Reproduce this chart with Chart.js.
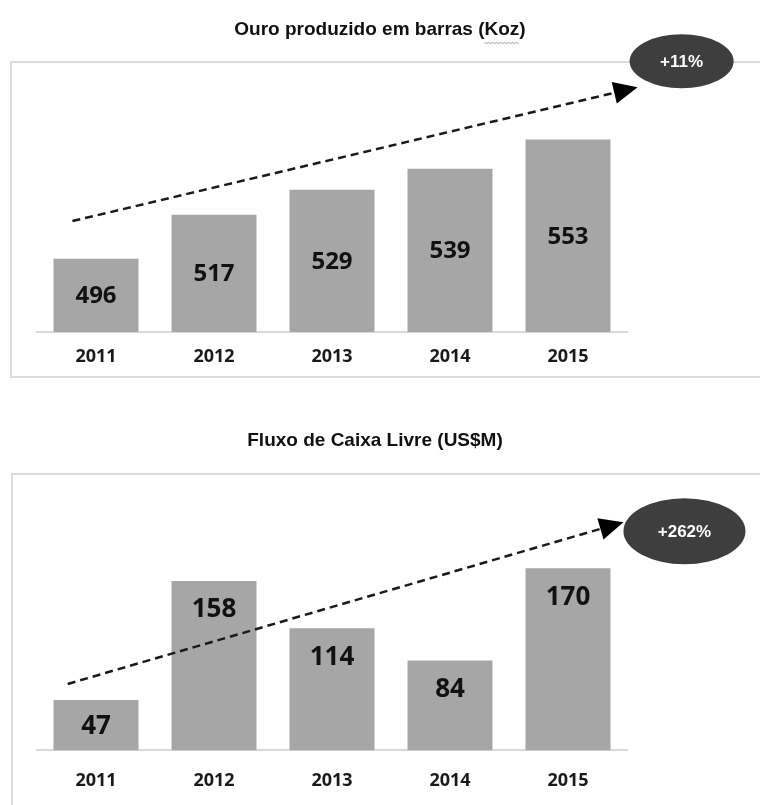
<!DOCTYPE html>
<html lang="pt">
<head>
<meta charset="utf-8">
<title>Ouro produzido e Fluxo de Caixa Livre</title>
<script src="https://cdn.jsdelivr.net/npm/chart.js@4.4.1/dist/chart.umd.min.js"></script>
<style>
  html, body { margin: 0; padding: 0; background: #fff; }
  body { width: 760px; height: 805px; position: relative; overflow: hidden; }
  canvas { position: absolute; left: 0; }
  #graficaOuro { top: 0; }
  #graficaFluxo { top: 400px; }
</style>
</head>
<body>
<canvas id="graficaOuro" width="760" height="390"></canvas>
<canvas id="graficaFluxo" width="760" height="420"></canvas>
<script>
// --- Dados ---
const anos = ['2011', '2012', '2013', '2014', '2015'];
const ouroKoz = [496, 517, 529, 539, 553];
const fluxoCaixa = [47, 158, 114, 84, 170];
const titulos = ['Ouro produzido em barras (Koz)', 'Fluxo de Caixa Livre (US$M)'];
const variacoes = ['+11%', '+262%'];

const FONTE_TITULO = 'bold 19px "Liberation Sans", Arial, sans-serif';

// Titulo, moldura, valores nas barras e seta de tendencia com o balao
function painel(cfg) {
    return {
        id: 'painel',
        beforeDraw(chart) {
            const ctx = chart.ctx;
            ctx.save();
            ctx.fillStyle = '#111';
            ctx.font = FONTE_TITULO;
            ctx.textAlign = 'center';
            ctx.textBaseline = 'middle';
            ctx.fillText(cfg.titulo, cfg.tituloX, cfg.tituloY);

            // sublinhado ondulado do corretor
            if (cfg.sublinhado) {
                const total = ctx.measureText(cfg.titulo).width;
                const idx = cfg.titulo.indexOf(cfg.sublinhado);
                const x0 = cfg.tituloX - total / 2 + ctx.measureText(cfg.titulo.slice(0, idx)).width;
                const w = ctx.measureText(cfg.sublinhado).width;
                ctx.strokeStyle = '#a0a0a0';
                ctx.lineWidth = 1;
                ctx.beginPath();
                for (let x = 0; x <= w; x += 2) {
                    const yy = cfg.tituloY + 12 + ((x / 2) % 2 === 0 ? 0 : 2);
                    if (x === 0) ctx.moveTo(x0 + x, yy); else ctx.lineTo(x0 + x, yy);
                }
                ctx.stroke();
            }

            const m = cfg.moldura;
            ctx.strokeStyle = '#dcdcdc';
            ctx.lineWidth = 2;
            ctx.beginPath();
            ctx.moveTo(chart.width, m.top);
            ctx.lineTo(m.left, m.top);
            ctx.lineTo(m.left, m.bottom);
            if (m.fechada) ctx.lineTo(chart.width, m.bottom);
            ctx.stroke();
            ctx.restore();
        },
        afterDatasetsDraw(chart) {
            const ctx = chart.ctx;
            const xs = chart.scales.x, ys = chart.scales.y;
            const valores = chart.data.datasets[0].data;
            ctx.save();

            // valores
            ctx.font = cfg.fonteValor;
            ctx.fillStyle = '#111';
            ctx.textAlign = 'center';
            ctx.textBaseline = 'middle';
            valores.forEach((v, i) => {
                const topo = ys.getPixelForValue(v);
                const meio = (topo + ys.bottom) / 2;
                const ty = cfg.valorTopo > 0 ? Math.min(topo + cfg.valorTopo, meio) : meio;
                ctx.fillText(String(v), xs.getPixelForValue(i), ty + 1);
            });

            // seta tracejada
            const ini = [xs.getPixelForValue(cfg.seta[0][0]), ys.getPixelForValue(cfg.seta[0][1])];
            const fim = [xs.getPixelForValue(cfg.seta[1][0]), ys.getPixelForValue(cfg.seta[1][1])];
            const ang = Math.atan2(fim[1] - ini[1], fim[0] - ini[0]);
            const L = 24, W = 11;
            const bx = fim[0] - L * Math.cos(ang), by = fim[1] - L * Math.sin(ang);
            ctx.strokeStyle = '#1a1a1a';
            ctx.lineWidth = 2.5;
            ctx.setLineDash([8, 5]);
            ctx.beginPath();
            ctx.moveTo(ini[0], ini[1]);
            ctx.lineTo(bx, by);
            ctx.stroke();
            ctx.setLineDash([]);
            ctx.fillStyle = '#000';
            ctx.beginPath();
            ctx.moveTo(fim[0], fim[1]);
            ctx.lineTo(bx + W * Math.sin(ang), by - W * Math.cos(ang));
            ctx.lineTo(bx - W * Math.sin(ang), by + W * Math.cos(ang));
            ctx.closePath();
            ctx.fill();

            // balao com a variacao
            const b = cfg.balao;
            const cx = fim[0] + b.dx, cy = fim[1] + b.dy;
            ctx.fillStyle = '#3e3e3e';
            ctx.beginPath();
            ctx.ellipse(cx, cy, b.rx, b.ry, 0, 0, Math.PI * 2);
            ctx.fill();
            ctx.fillStyle = '#fff';
            ctx.font = b.fonte;
            ctx.fillText(b.texto, cx, cy + 1);
            ctx.restore();
        }
    };
}

function criarGrafica(id, valores, escala, cfg) {
    return new Chart(document.getElementById(id), {
        type: 'bar',
        data: {
            labels: anos,
            datasets: [{
                data: valores,
                backgroundColor: '#a6a6a6',
                barPercentage: 0.72,
                categoryPercentage: 1
            }]
        },
        options: {
            responsive: false,
            animation: false,
            layout: { padding: cfg.padding },
            plugins: { legend: { display: false }, tooltip: { enabled: false }, title: { display: false } },
            scales: {
                x: {
                    grid: { display: false, drawTicks: false },
                    border: { display: true, color: '#d9d9d9', width: 2 },
                    ticks: {
                        color: '#1a1a1a',
                        padding: cfg.padTicks,
                        font: { family: '"Open Sans", sans-serif', size: 18, weight: 'bold' }
                    }
                },
                y: { display: false, min: escala[0], max: escala[1] }
            }
        },
        plugins: [painel(cfg)]
    });
}

criarGrafica('graficaOuro', ouroKoz, [461, 581], {
    titulo: titulos[0], tituloX: 380, tituloY: 30, sublinhado: 'Koz',
    moldura: { left: 11, top: 62, bottom: 377, fechada: true },
    padding: { left: 37, right: 133, top: 81, bottom: 7.5 },
    padTicks: 14.5,
    fonteValor: 'bold 24px "Open Sans", sans-serif',
    valorTopo: 0,
    seta: [[-0.2, 514], [4.59, 578]],
    balao: { dx: 44, dy: -26, rx: 52, ry: 27, texto: variacoes[0], fonte: 'bold 17px "Liberation Sans", Arial, sans-serif' }
});

criarGrafica('graficaFluxo', fluxoCaixa, [0, 215], {
    titulo: titulos[1], tituloX: 375, tituloY: 41,
    moldura: { left: 12, top: 74, bottom: 420, fechada: false },
    padding: { left: 37, right: 133, top: 120, bottom: 8 },
    padTicks: 20,
    fonteValor: 'bold 26px "Open Sans", sans-serif',
    valorTopo: 28,
    seta: [[-0.24, 62], [4.47, 213]],
    balao: { dx: 61, dy: 9, rx: 61, ry: 33, texto: variacoes[1], fonte: 'bold 17px "Liberation Sans", Arial, sans-serif' }
});
</script>
</body>
</html>
